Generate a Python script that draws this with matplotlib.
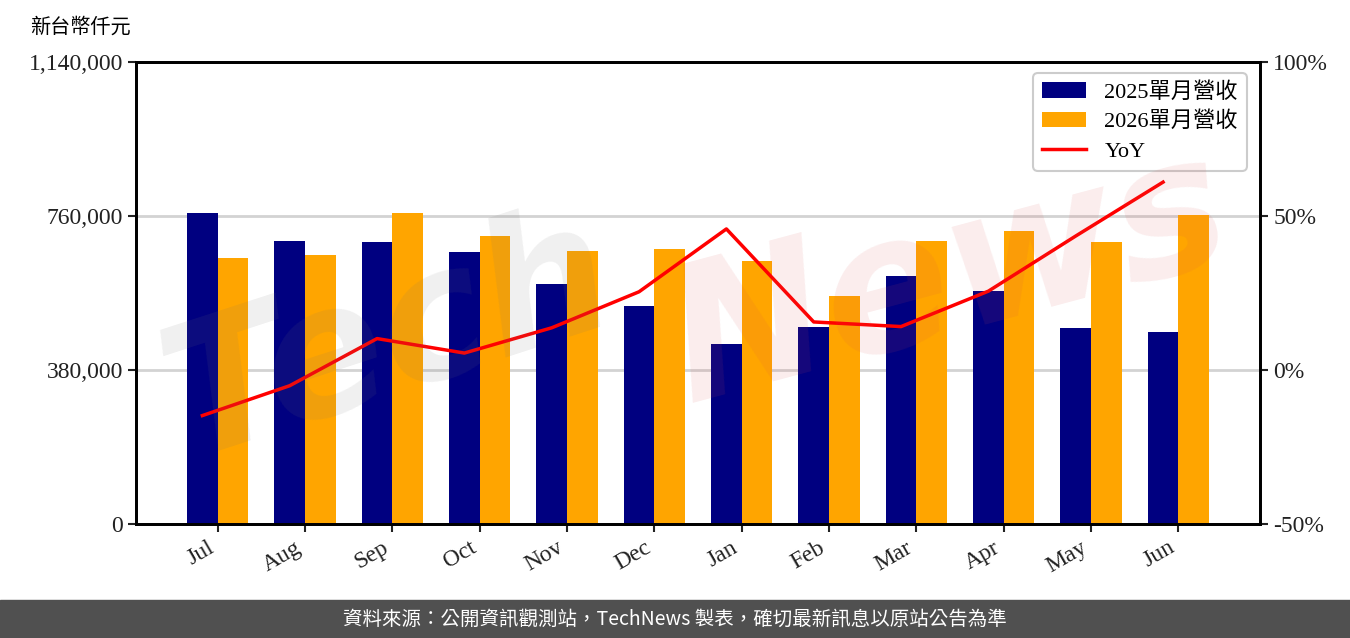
import matplotlib
matplotlib.use("Agg")
import matplotlib.pyplot as plt
import numpy as np
from matplotlib.patches import Rectangle
from matplotlib.ticker import FuncFormatter

plt.rcParams['font.family'] = ['Liberation Serif', 'Noto Sans CJK TC', 'DejaVu Sans']

months = ['Jul', 'Aug', 'Sep', 'Oct', 'Nov', 'Dec', 'Jan', 'Feb', 'Mar', 'Apr', 'May', 'Jun']
rev_2025 = [767400, 698300, 695800, 671200, 592200, 537900, 444200, 486100, 611900, 574900, 483600, 473800]
rev_2026 = [656400, 663800, 767400, 710600, 673600, 678600, 649000, 562600, 698300, 723000, 695800, 762500]
yoy = [-14.8, -5.1, 10.2, 5.5, 13.7, 25.4, 45.8, 15.6, 14.1, 25.6, 43.5, 61.0]
left_ticks = [0, 380000, 760000, 1140000]
right_ticks = [-50, 0, 50, 100]
label_2025 = '2025單月營收'
label_2026 = '2026單月營收'
label_yoy = 'YoY'
unit_label = '新台幣仟元'
footer = '資料來源：公開資訊觀測站，TechNews 製表，確切最新訊息以原站公告為準'

W, H = 1350, 638
fig = plt.figure(figsize=(W / 100, H / 100), dpi=100)
ax = fig.add_axes([136 / W, 1 - 524 / H, (1260 - 136) / W, (524 - 62) / H])
ax2 = ax.twinx()

x = np.arange(len(months))
w = 0.35
b1 = ax.bar(x - w / 2, rev_2025, w, color='#000080', label=label_2025, zorder=2)
b2 = ax.bar(x + w / 2, rev_2026, w, color='#FFA500', label=label_2026, zorder=2)
ln, = ax2.plot(x - w / 2, yoy, color='red', lw=2.5, label=label_yoy)

ax.set_ylim(0, 1140000)
ax.set_yticks(left_ticks)
ax.yaxis.set_major_formatter(FuncFormatter(lambda v, p: f'{int(v):,}'))
ax2.set_ylim(-50, 100)
ax2.set_yticks(right_ticks)
ax2.yaxis.set_major_formatter(FuncFormatter(lambda v, p: f'{int(v)}%'))

ax.set_xticks(x)
ax.set_xticklabels(months, rotation=30, ha='right')
ax.yaxis.grid(True, color='#d3d3d3', lw=2)
ax.set_axisbelow(True)

for a in (ax, ax2):
    for s in a.spines.values():
        s.set_linewidth(2)
        s.set_color('black')
    a.tick_params(labelsize=17, length=6, width=1.5, colors='#222222', labelcolor='#222222')

leg = ax2.legend(handles=[b1, b2, ln], loc='upper right', fontsize=16,
                 edgecolor='#cccccc', framealpha=1, fancybox=True,
                 bbox_to_anchor=(0.998, 1.0), handlelength=2.0, borderpad=0.4,
                 labelspacing=0.4)
leg.get_frame().set_linewidth(1.5)

fig.text(30 / W, 1 - 27 / H, unit_label, fontsize=14.5, va='center', ha='left',
         family=['Noto Sans CJK TC'])

# watermark
fig.text(390 / W, 1 - 340 / H, 'Tech', fontsize=130, rotation=18, color=(0.45, 0.45, 0.45),
         alpha=0.11, ha='center', va='center', style='italic', weight='bold',
         family=['DejaVu Sans'], zorder=10)
fig.text(950 / W, 1 - 280 / H, 'News', fontsize=135, rotation=15, color=(0.85, 0.3, 0.3),
         alpha=0.1, ha='center', va='center', style='italic', weight='bold',
         family=['DejaVu Sans'], zorder=10)

# footer
fig.patches.append(Rectangle((0, 0), 1, 38 / H, transform=fig.transFigure,
                             color='#505050', zorder=0))
fig.text(0.5, 19 / H, footer, color='white', fontsize=14, ha='center', va='center',
         family=['Noto Sans CJK TC'])

fig.savefig('out.png', dpi=100)
